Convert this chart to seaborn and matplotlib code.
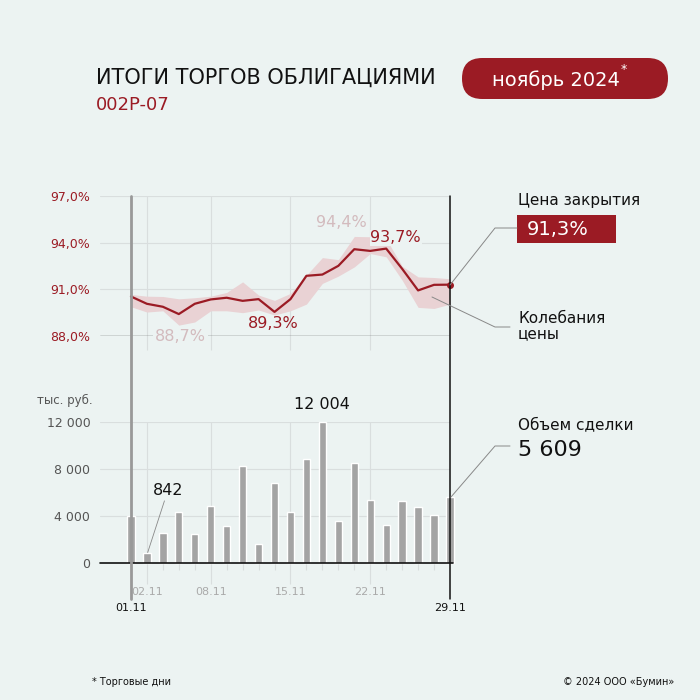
import matplotlib
matplotlib.use("Agg")
import matplotlib.pyplot as plt
from matplotlib.patches import FancyBboxPatch, Rectangle
from matplotlib.lines import Line2D
import seaborn as sns
import pandas as pd

# trading days, november 2024
days = ["01.11", "02.11", "05.11", "06.11", "07.11", "08.11", "11.11", "12.11",
        "13.11", "14.11", "15.11", "18.11", "19.11", "20.11", "21.11", "22.11",
        "25.11", "26.11", "27.11", "28.11", "29.11"]
close = [90.54, 90.07, 89.88, 89.41, 90.07, 90.35, 90.46, 90.26, 90.37, 89.55, 90.37,
         91.87, 91.95, 92.51, 93.58, 93.47, 93.62, 92.32, 90.93, 91.29, 91.30]
high = [90.67, 90.56, 90.54, 90.39, 90.46, 90.56, 90.80, 91.48, 90.63, 90.29, 90.74,
        91.91, 93.04, 92.91, 94.40, 94.38, 94.24, 92.49, 91.80, 91.76, 91.68]
low = [89.88, 89.54, 89.62, 88.70, 88.90, 89.62, 89.62, 89.50, 89.67, 89.35, 89.62,
       90.05, 91.38, 91.85, 92.44, 93.30, 93.09, 91.59, 89.84, 89.77, 90.05]
volume = [3981, 842, 2530, 4320, 2445, 4834, 3128, 8275, 1592, 6825, 4379,
          8872, 12004, 3611, 8531, 5374, 3242, 5318, 4777, 4095, 5609]
price_ticks = [88, 91, 94, 97]
price_labels = ["88,0%", "91,0%", "94,0%", "97,0%"]
vol_ticks = [0, 4000, 8000, 12000]
vol_labels = ["0", "4 000", "8 000", "12 000"]
shown_days = [1, 5, 10, 15]

BG = "#ecf3f2"
RED = "#9b1b24"
BAND = "#e9d2d4"
LIGHT = "#d3bbbe"
GRID = "#d9dede"
GRAY = "#a4a4a4"

sns.set_theme(style="white")
plt.rcParams["font.family"] = ["DejaVu Sans"]

df = pd.DataFrame({"day": days, "pos": range(len(days)), "close": close,
                   "high": high, "low": low, "volume": volume})

fig = plt.figure(figsize=(7, 7), dpi=100, facecolor=BG)


def fx(x):
    return x / 700


def fy(y):
    return 1 - y / 700


xlim = (-1.94, 20)

# ---- price panel
ax1 = fig.add_axes([fx(100), fy(336), 350 / 700, 140 / 700])
ax1.set_facecolor("none")
for t in price_ticks[1:]:
    ax1.axhline(t, color=GRID, lw=0.8, zorder=0)
ax1.axhline(price_ticks[0], color="#555555", lw=1.0, zorder=1)
ax1.vlines(shown_days, 87.1, 97, color=GRID, lw=0.8, zorder=0, clip_on=False)
ax1.fill_between(df["pos"], df["low"], df["high"], color=BAND, lw=0, zorder=2)
sns.lineplot(data=df, x="pos", y="close", ax=ax1, color=RED, lw=1.6, zorder=3)
ax1.scatter(df["pos"].iloc[-1], df["close"].iloc[-1], s=16, color=RED, zorder=4, clip_on=False)
ax1.set_xlim(*xlim)
ax1.set_ylim(88, 97)
ax1.set_yticks(price_ticks)
ax1.set_yticklabels(price_labels, color=RED, fontsize=9)
ax1.set_xticks([])
ax1.tick_params(axis="y", length=0, pad=7)
ax1.set_xlabel("")
ax1.set_ylabel("")
for s in ax1.spines.values():
    s.set_visible(False)

lbl = dict(fontsize=11.5, ha="center", va="center", zorder=5)
ax1.text(3.1, 87.95, "88,7%", color=LIGHT, bbox=dict(fc=BG, ec="none", pad=1.5), **lbl)
ax1.text(13.2, 95.3, "94,4%", color=LIGHT, **lbl)
ax1.text(8.95, 88.8, "89,3%", color=RED, **lbl)
ax1.text(16.6, 94.3, "93,7%", color=RED, bbox=dict(fc=BG, ec="none", pad=0.5), **lbl)

# ---- volume panel
ax2 = fig.add_axes([fx(100), fy(563), 350 / 700, 140.7 / 700])
ax2.set_facecolor("none")
for t in vol_ticks[1:]:
    ax2.axhline(t, color=GRID, lw=0.8, zorder=0)
ax2.vlines(shown_days, 0, 12000, color=GRID, lw=0.8, zorder=0)
sns.barplot(data=df, x="day", y="volume", ax=ax2, color=GRAY, width=0.46,
            saturation=1, zorder=2)
for p in ax2.patches:
    p.set_clip_on(False)
ax2.axhline(0, color="#111111", lw=1.2, zorder=3, xmax=1.01, clip_on=False)
ax2.set_xlim(*xlim)
ax2.set_ylim(0, 12000)
ax2.set_yticks(vol_ticks)
ax2.set_yticklabels(vol_labels, color="#555555", fontsize=9)
ax2.tick_params(axis="y", length=0, pad=7)
ax2.set_xticks(shown_days)
ax2.set_xticklabels([days[i] for i in shown_days], color="#aaaaaa", fontsize=8)
ax2.set_xticks([i for i in range(len(days)) if i not in shown_days and 0 < i < 20], minor=True)
ax2.tick_params(axis="x", which="major", length=15, width=0.8, color=GRID, pad=2, bottom=True)
ax2.tick_params(axis="x", which="minor", length=5, width=0.8, color=GRID, bottom=True)
ax2.set_xlabel("")
ax2.set_ylabel("")
for s in ax2.spines.values():
    s.set_visible(False)

ax2.text(12, 13500, "12 004", fontsize=11.5, ha="center", va="center", color="#111111")
ax2.text(2.3, 6150, "842", fontsize=11.5, ha="center", va="center", color="#111111")
ax2.plot([2.1, 1.05], [5300, 900], color="#888888", lw=0.6)
ax2.text(-2.4, 13900, "тыс. руб.", fontsize=8.5, ha="right", va="center", color="#555555")

# vertical frame lines through both panels
fig.add_artist(Line2D([fx(131), fx(131)], [fy(196), fy(599)], color="#999999", lw=2.0))
fig.add_artist(Line2D([fx(450), fx(450)], [fy(196), fy(599)], color="#111111", lw=1.1))
fig.text(fx(131), fy(608), days[0], fontsize=8, ha="center", va="center", color="#111111")
fig.text(fx(450), fy(608), days[-1], fontsize=8, ha="center", va="center", color="#111111")

# ---- header
fig.text(fx(96), fy(78), "ИТОГИ ТОРГОВ ОБЛИГАЦИЯМИ", fontsize=15, ha="left", va="center",
         color="#111111")
fig.text(fx(96), fy(105), "002P-07", fontsize=13, ha="left", va="center", color=RED)
pill = FancyBboxPatch((fx(462), fy(99)), fx(206), 41 / 700,
                      boxstyle="round,pad=0,rounding_size=0.029", fc=RED, ec="none",
                      transform=fig.transFigure)
fig.add_artist(pill)
fig.text(fx(556), fy(80), "ноябрь 2024", fontsize=14, ha="center", va="center", color="white")
fig.text(fx(621), fy(70), "*", fontsize=9, ha="left", va="center", color="white")

# ---- right-side legend
lc = dict(color="#888888", lw=0.7)
fig.add_artist(Line2D([fx(450), fx(495), fx(517)], [fy(285), fy(228), fy(228)], **lc))
fig.add_artist(Line2D([fx(432), fx(495), fx(510)], [fy(297), fy(327), fy(327)], **lc))
fig.add_artist(Line2D([fx(451), fx(495), fx(510)], [fy(497), fy(446), fy(446)], **lc))

fig.text(fx(518), fy(201), "Цена закрытия", fontsize=11, ha="left", va="center",
         color="#111111", fontweight="medium")
fig.add_artist(Rectangle((fx(517), fy(243)), fx(99), 28 / 700, fc=RED, ec="none",
                         transform=fig.transFigure))
fig.text(fx(527), fy(230), "91,3%", fontsize=14, ha="left", va="center", color="white")
fig.text(fx(518), fy(326), "Колебания\nцены", fontsize=11, ha="left", va="center",
         color="#111111", linespacing=0.95)
fig.text(fx(518), fy(425), "Объем сделки", fontsize=11, ha="left", va="center",
         color="#111111")
fig.text(fx(518), fy(450), "5 609", fontsize=16, ha="left", va="center", color="#111111")

# ---- footer
fig.text(fx(92), fy(682), "* Торговые дни", fontsize=7, ha="left", va="center", color="#111111")
fig.text(fx(674), fy(682), "© 2024 ООО «Бумин»", fontsize=7, ha="right", va="center",
         color="#111111")

fig.savefig("out.png", dpi=100, facecolor=BG)
